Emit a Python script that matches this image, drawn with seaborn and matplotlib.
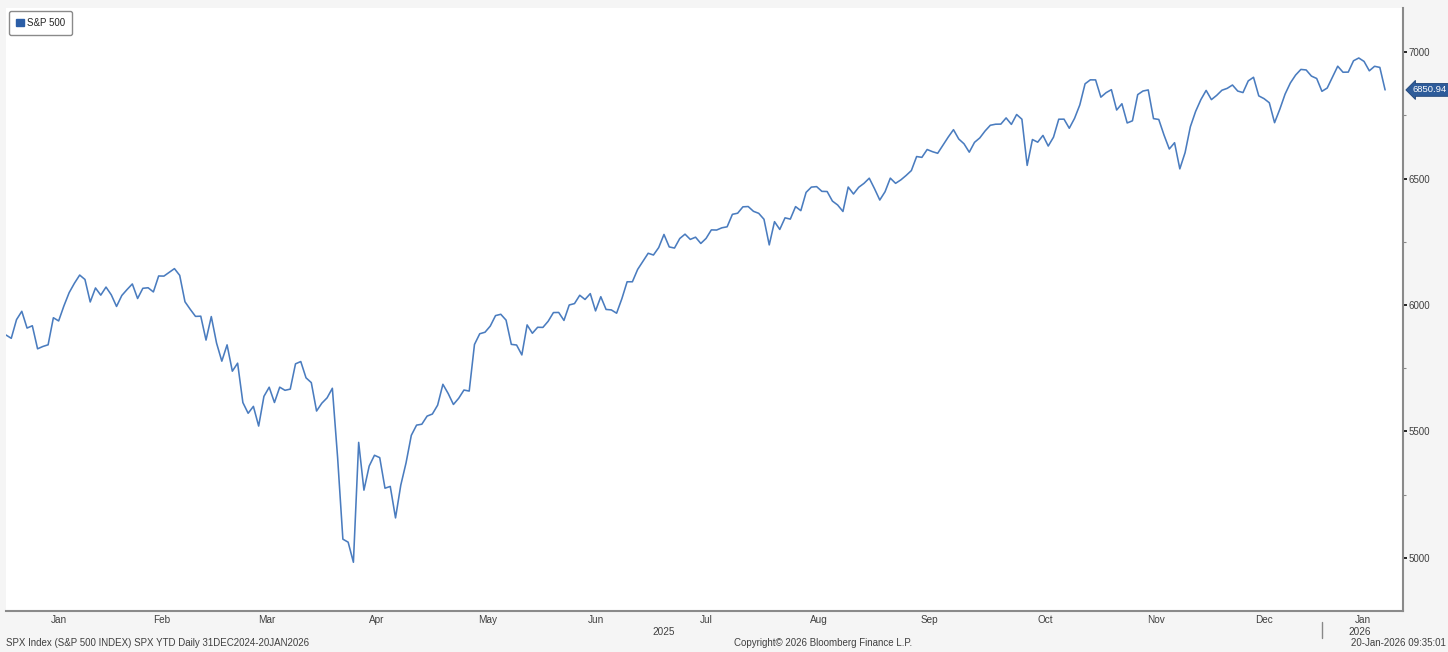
import pandas as pd
import numpy as np
import matplotlib.pyplot as plt
import matplotlib.ticker as mticker
from matplotlib.patches import Patch
import seaborn as sns

# ─────────────────────────────────────────────
# DATOS: cierres diarios S&P 500 (31DEC2024 - 20JAN2026)
# ─────────────────────────────────────────────
HOLIDAYS = ["2025-01-01", "2025-01-09", "2025-01-20", "2025-02-17", "2025-04-18",
            "2025-05-26", "2025-06-19", "2025-07-04", "2025-09-01", "2025-11-27",
            "2025-12-25", "2026-01-01", "2026-01-19"]

cierre_dic24 = [5881.63]
cierre_ene = [5868.55, 5942.47, 5975.38, 5909.03, 5918.25, 5827.04, 5836.22, 5842.91,
              5949.91, 5937.34, 5996.66, 6049.24, 6086.37, 6118.71, 6101.24, 6012.28,
              6067.70, 6039.31, 6071.17, 6040.53]
cierre_feb = [5994.57, 6037.88, 6061.48, 6083.57, 6025.99, 6066.44, 6068.50, 6051.97,
              6115.07, 6114.63, 6129.58, 6144.15, 6117.52, 6013.13, 5983.25, 5955.25,
              5956.06, 5861.57, 5954.50]
cierre_mar = [5849.72, 5778.15, 5842.63, 5738.52, 5770.20, 5614.56, 5572.07, 5599.30,
              5521.52, 5638.94, 5675.12, 5614.66, 5675.29, 5662.89, 5667.56, 5767.57,
              5776.65, 5712.20, 5693.31, 5580.94, 5611.85]
cierre_abr = [5633.07, 5670.97, 5396.52, 5074.08, 5062.25, 4982.77, 5456.90, 5268.05,
              5363.36, 5405.97, 5396.63, 5275.70, 5282.70, 5158.20, 5287.76, 5375.86,
              5484.77, 5525.21, 5528.75, 5560.83, 5569.06]
cierre_may = [5604.14, 5686.67, 5650.38, 5606.91, 5631.28, 5663.94, 5659.91, 5844.19,
              5886.55, 5892.58, 5916.93, 5958.38, 5963.60, 5940.46, 5844.61, 5842.01,
              5802.82, 5921.54, 5888.55, 5912.17, 5911.69]
cierre_jun = [5935.94, 5970.37, 5970.81, 5939.30, 6000.36, 6005.88, 6038.81, 6022.24,
              6045.26, 5976.97, 6033.11, 5982.72, 5980.87, 5967.84, 6025.17, 6092.18,
              6092.16, 6141.02, 6173.07, 6204.95]
cierre_jul = [6198.01, 6227.42, 6279.35, 6229.98, 6225.52, 6263.26, 6280.46, 6259.75,
              6268.56, 6243.76, 6263.70, 6297.36, 6296.79, 6305.60, 6309.62, 6358.91,
              6363.35, 6388.64, 6389.77, 6370.86, 6362.90, 6339.39]
cierre_ago = [6238.01, 6329.94, 6299.19, 6345.06, 6340.00, 6389.45, 6373.45, 6445.76,
              6466.58, 6468.54, 6449.80, 6449.15, 6411.37, 6395.78, 6370.17, 6466.91,
              6439.32, 6465.94, 6481.40, 6501.86, 6460.26]
cierre_sep = [6415.54, 6448.26, 6502.08, 6481.50, 6495.15, 6512.61, 6532.04, 6587.47,
              6584.29, 6615.28, 6606.76, 6600.35, 6631.96, 6664.36, 6693.75, 6656.92,
              6637.97, 6604.72, 6643.70, 6661.21, 6688.46]
cierre_oct = [6711.20, 6715.35, 6715.79, 6740.28, 6714.59, 6753.72, 6735.11, 6552.51,
              6654.72, 6644.31, 6671.06, 6629.07, 6664.01, 6735.13, 6735.35, 6699.40,
              6738.44, 6791.69, 6875.16, 6890.89, 6890.59, 6822.34, 6840.20]
cierre_nov = [6851.97, 6771.55, 6796.29, 6720.32, 6728.80, 6832.43, 6846.61, 6850.92,
              6737.49, 6734.11, 6672.41, 6617.32, 6642.16, 6538.76, 6602.99, 6705.12,
              6765.88, 6812.61, 6849.09]
cierre_dic = [6812.63, 6829.37, 6849.72, 6857.12, 6870.40, 6846.51, 6840.51, 6886.68,
              6901.00, 6827.41, 6816.51, 6800.26, 6721.43, 6774.76, 6834.50, 6878.49,
              6909.79, 6932.05, 6929.94, 6905.74, 6896.24, 6845.50]
cierre_ene26 = [6858.47, 6902.05, 6944.82, 6920.93, 6921.46, 6966.28, 6977.27, 6963.74,
                6926.60, 6944.47, 6940.01, 6850.94]

ULTIMO = 6850.94
Y_TICKS = [5000, 5500, 6000, 6500, 7000]
MESES = ["Jan", "Feb", "Mar", "Apr", "May", "Jun", "Jul", "Aug", "Sep", "Oct", "Nov", "Dec", "Jan"]

cierres = (cierre_dic24 + cierre_ene + cierre_feb + cierre_mar + cierre_abr + cierre_may
           + cierre_jun + cierre_jul + cierre_ago + cierre_sep + cierre_oct + cierre_nov
           + cierre_dic + cierre_ene26)
fechas = pd.bdate_range("2024-12-31", "2026-01-20", freq="C", holidays=HOLIDAYS)
df = pd.DataFrame({"fecha": fechas, "cierre": cierres})
df["idx"] = np.arange(len(df))

# fin de cada mes (índice del último día hábil)
fin_mes = df.groupby(df["fecha"].dt.to_period("M"))["idx"].max().values[:-1]
X_MAX = df["idx"].iloc[-1] + 3.4

# ─────────────────────────────────────────────
# GRÁFICO
# ─────────────────────────────────────────────
sns.set_style("white")
plt.rcParams["font.family"] = ["Liberation Sans", "DejaVu Sans"]

FONDO = "#f5f5f5"
AZUL = "#4a7cbf"
GRIS_TXT = "#404040"

fig = plt.figure(figsize=(14.48, 6.52), dpi=100, facecolor=FONDO)
ax = fig.add_axes([6 / 1448, 41 / 652, 1397 / 1448, 603 / 652])
ax.set_facecolor("white")

sns.lineplot(data=df, x="idx", y="cierre", ax=ax, color=AZUL, linewidth=1.15)

ax.set_xlim(0, X_MAX)
ax.set_ylim(4790, 7175)
ax.set_xlabel("")
ax.set_ylabel("")

# eje Y a la derecha
ax.yaxis.tick_right()
ax.yaxis.set_major_locator(mticker.FixedLocator(Y_TICKS))
ax.yaxis.set_minor_locator(mticker.MultipleLocator(250))
ax.tick_params(axis="y", which="major", direction="out", length=3, width=1.2,
               color="black", labelsize=7, labelcolor=GRIS_TXT, pad=1)
ax.tick_params(axis="y", which="minor", direction="out", length=2, width=0.8, color="#888888")

# eje X: marcas en fin de mes, etiquetas centradas
ax.xaxis.set_major_locator(mticker.FixedLocator(fin_mes))
ax.xaxis.set_major_formatter(mticker.NullFormatter())
bordes = list(fin_mes) + [X_MAX]
centros = [(a + b) / 2 for a, b in zip(bordes[:-1], bordes[1:])]
ax.xaxis.set_minor_locator(mticker.FixedLocator(centros))
ax.xaxis.set_minor_formatter(mticker.FixedFormatter(MESES))
ax.tick_params(axis="x", which="major", direction="inout", length=3, width=1, color="#333333")
ax.tick_params(axis="x", which="minor", length=0, labelsize=7.2, labelcolor=GRIS_TXT, pad=3)

for lado in ["top", "left"]:
    ax.spines[lado].set_visible(False)
for lado in ["bottom", "right"]:
    ax.spines[lado].set_color("#8a8a8a")
    ax.spines[lado].set_linewidth(1.5)

# etiqueta del último valor
ax.text(1.007, ULTIMO, f"{ULTIMO:.2f}", transform=ax.get_yaxis_transform(),
        ha="left", va="center", fontsize=6.8, color="white",
        bbox=dict(boxstyle="larrow,pad=0.2", fc="#2e5c9a", ec="#1f4478", lw=0.6))

# leyenda
ax.legend(handles=[Patch(facecolor="#2b5ea7", edgecolor="#2b5ea7", label="S&P 500")],
          loc="upper left", fontsize=7, frameon=True, fancybox=True,
          edgecolor="#8a8a8a", framealpha=1, handlelength=0.8, handleheight=0.8,
          handletextpad=0.4, borderpad=0.7, borderaxespad=0.3)

# años y separador
trans = ax.get_xaxis_transform()
ax.text(fin_mes[-1] / 2, -0.034, "2025", transform=trans, ha="center", va="center",
        fontsize=7.2, color=GRIS_TXT)
ax.text((fin_mes[-1] + X_MAX) / 2 - 0.5, -0.034, "2026", transform=trans, ha="center",
        va="center", fontsize=7.2, color=GRIS_TXT)
ax.plot([fin_mes[-1], fin_mes[-1]], [-0.018, -0.045], transform=trans, color="#888888",
        lw=1, clip_on=False)

# pie de página
fig.text(6 / 1448, 9 / 652, "SPX Index (S&P 500 INDEX) SPX YTD Daily 31DEC2024-20JAN2026",
         ha="left", va="center", fontsize=7, color=GRIS_TXT)
fig.text(823 / 1448, 9 / 652, "Copyright\u00a9 2026 Bloomberg Finance L.P.",
         ha="center", va="center", fontsize=7, color=GRIS_TXT)
fig.text(1446 / 1448, 9 / 652, "20-Jan-2026 09:35:01",
         ha="right", va="center", fontsize=7, color=GRIS_TXT)

plt.savefig("out.png", dpi=100, facecolor=FONDO)
plt.close()
